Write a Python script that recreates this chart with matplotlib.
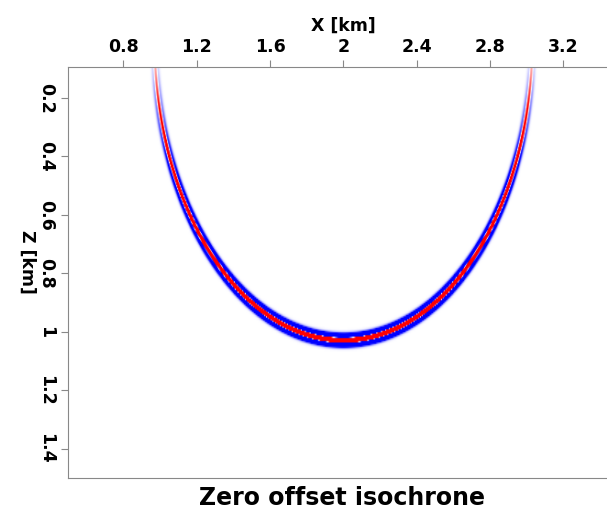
import numpy as np
import matplotlib
matplotlib.use("Agg")
import matplotlib.pyplot as plt
from matplotlib.colors import LinearSegmentedColormap

# model / image parameters (km)
x_center = 2.0
radius = 1.03
peak_freq = 26.0          # cycles per km of the Ricker wavelet
clip = 0.13               # display clip (fraction of max)
x_range = [0.5, 3.5]
z_range = [0.095, 1.5]
dx = 0.005

# axis ticks
x_ticks = [0.8, 1.2, 1.6, 2.0, 2.4, 2.8, 3.2]
x_tick_labels = ["0.8", "1.2", "1.6", "2", "2.4", "2.8", "3.2"]
z_ticks = [0.2, 0.4, 0.6, 0.8, 1.0, 1.2, 1.4]
z_tick_labels = ["0.2", "0.4", "0.6", "0.8", "1", "1.2", "1.4"]

plt.rcParams['font.family'] = ['DejaVu Sans']
plt.rcParams['font.weight'] = 'bold'

x = np.arange(x_range[0], x_range[1] + dx / 2, dx)
z = np.arange(z_range[0], z_range[1] + dx / 2, dx)
X, Z = np.meshgrid(x, z)
dist = np.sqrt((X - x_center) ** 2 + Z ** 2) - radius
u = (np.pi * peak_freq * dist) ** 2
ricker = (1 - 2 * u) * np.exp(-u)
# obliquity fades the steep part near the surface
image = ricker * np.clip(Z / radius, 0, 1) ** 1.3

cmap = LinearSegmentedColormap.from_list('bwr_odd', ['blue', 'white', 'red'], N=255)

fig = plt.figure(figsize=(6.07, 5.15), dpi=100)
ax = fig.add_axes([68.3 / 607, (515 - 478) / 515, 550 / 607, (478 - 67.3) / 515])
ax.imshow(image, cmap=cmap, vmin=-clip, vmax=clip, aspect='auto',
          extent=[x[0], x[-1], z[-1], z[0]], interpolation='bilinear')
ax.set_xlim(x_range)
ax.set_ylim(z_range[1], z_range[0])

ax.xaxis.tick_top()
ax.xaxis.set_label_position('top')
ax.set_xticks(x_ticks)
ax.set_xticklabels(x_tick_labels, fontsize=12.5, fontweight='bold')
ax.set_yticks(z_ticks)
ax.set_yticklabels(z_tick_labels, fontsize=12.5, fontweight='bold',
                   rotation=270, va='center')
ax.set_xlabel("X [km]", fontsize=12.5, fontweight='bold', labelpad=5)
ax.tick_params(colors='#888888', labelcolor='black', length=4.75, width=0.8)
ax.tick_params(axis='x', pad=3.5)
ax.tick_params(axis='y', pad=4.5)
for sp in ax.spines.values():
    sp.set_color('#888888')
    sp.set_linewidth(0.8)

fig.text(27 / 607, 1 - 262 / 515, "Z [km]", fontsize=12.5, fontweight='bold',
         rotation=270, ha='center', va='center')
fig.text(342 / 607, 1 - 498 / 515, "Zero offset isochrone", fontsize=17,
         fontweight='bold', ha='center', va='center')

fig.savefig("out.png", dpi=100)
